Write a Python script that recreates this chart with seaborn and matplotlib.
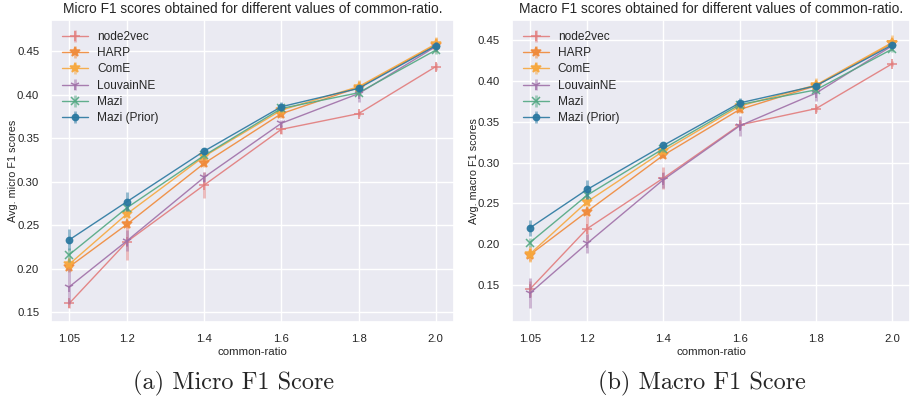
import numpy as np
import pandas as pd
import seaborn as sns
import matplotlib
matplotlib.use("Agg")
import matplotlib.pyplot as plt
from matplotlib.legend_handler import HandlerTuple

ratios = [1.05, 1.2, 1.4, 1.6, 1.8, 2.0]
methods = ["node2vec", "HARP", "ComE", "LouvainNE", "Mazi", "Mazi (Prior)"]

micro_node2vec = [0.160, 0.231, 0.296, 0.360, 0.378, 0.432]
micro_harp = [0.202, 0.251, 0.321, 0.378, 0.408, 0.457]
micro_come = [0.205, 0.263, 0.329, 0.382, 0.409, 0.458]
micro_louvain = [0.179, 0.232, 0.305, 0.367, 0.401, 0.455]
micro_mazi = [0.216, 0.270, 0.330, 0.384, 0.402, 0.451]
micro_prior = [0.233, 0.277, 0.335, 0.386, 0.407, 0.456]

micro_err_node2vec = [0.005, 0.021, 0.015, 0.005, 0.003, 0.004]
micro_err_harp = [0.006, 0.005, 0.004, 0.005, 0.007, 0.008]
micro_err_come = [0.008, 0.006, 0.004, 0.005, 0.008, 0.008]
micro_err_louvain = [0.020, 0.012, 0.006, 0.004, 0.010, 0.005]
micro_err_mazi = [0.008, 0.004, 0.004, 0.004, 0.004, 0.004]
micro_err_prior = [0.012, 0.011, 0.003, 0.005, 0.004, 0.004]

macro_node2vec = [0.145, 0.219, 0.281, 0.346, 0.366, 0.421]
macro_harp = [0.187, 0.240, 0.309, 0.365, 0.394, 0.446]
macro_come = [0.188, 0.252, 0.314, 0.369, 0.395, 0.447]
macro_louvain = [0.140, 0.201, 0.279, 0.345, 0.385, 0.443]
macro_mazi = [0.202, 0.260, 0.317, 0.371, 0.389, 0.439]
macro_prior = [0.220, 0.267, 0.321, 0.373, 0.394, 0.444]

macro_err_node2vec = [0.010, 0.015, 0.013, 0.005, 0.004, 0.003]
macro_err_harp = [0.008, 0.006, 0.004, 0.004, 0.006, 0.006]
macro_err_come = [0.010, 0.007, 0.004, 0.004, 0.009, 0.009]
macro_err_louvain = [0.018, 0.012, 0.010, 0.012, 0.010, 0.004]
macro_err_mazi = [0.006, 0.005, 0.004, 0.004, 0.004, 0.004]
macro_err_prior = [0.010, 0.012, 0.003, 0.006, 0.004, 0.004]

micro = [micro_node2vec, micro_harp, micro_come, micro_louvain, micro_mazi, micro_prior]
micro_err = [micro_err_node2vec, micro_err_harp, micro_err_come, micro_err_louvain,
             micro_err_mazi, micro_err_prior]
macro = [macro_node2vec, macro_harp, macro_come, macro_louvain, macro_mazi, macro_prior]
macro_err = [macro_err_node2vec, macro_err_harp, macro_err_come, macro_err_louvain,
             macro_err_mazi, macro_err_prior]

colors = ["#e27c7c", "#f08a3a", "#f7a83e", "#a070a8", "#52a882", "#2a78a0"]
markers = ["+", "*", "*", "1", "x", "o"]
msizes = [7, 7, 7, 7, 6, 4.5]

sns.set_theme(style="darkgrid")
plt.rcParams["font.family"] = ["Liberation Sans", "DejaVu Sans"]

fig = plt.figure(figsize=(9.14, 4.01), dpi=100)
ax1 = fig.add_axes([0.0558, 0.197, 0.4409, 0.753])
ax2 = fig.add_axes([0.560, 0.197, 0.436, 0.753])


def draw(ax, vals, errs, title, ylabel, ylim):
    handles = []
    for m, v, e, c, mk, ms in zip(methods, vals, errs, colors, markers, msizes):
        df = pd.DataFrame({"ratio": ratios, "score": v})
        sns.lineplot(data=df, x="ratio", y="score", color=c, marker=mk,
                     markersize=ms, markeredgecolor=c, markerfacecolor=c,
                     markeredgewidth=1.1, linewidth=1.0, alpha=0.9,
                     errorbar=None, ax=ax)
        line = ax.lines[-1]
        eb = ax.errorbar(ratios, v, yerr=e, fmt="none", ecolor=c,
                         elinewidth=2.0, alpha=0.5)
        handles.append((line, eb))
    ax.legend(handles, methods, handler_map={tuple: HandlerTuple(ndivide=1)},
              loc="upper left", frameon=False, fontsize=8.6,
              handlelength=2.2, labelspacing=0.36, borderaxespad=0.5,
              handletextpad=0.75)
    ax.set_xticks(ratios)
    ax.set_xticklabels(["1.05", "1.2", "1.4", "1.6", "1.8", "2.0"])
    ax.set_ylim(*ylim)
    ax.tick_params(labelsize=8.2, pad=2.5)
    ax.set_xlabel("common-ratio", fontsize=8.2, labelpad=2)
    ax.set_ylabel(ylabel, fontsize=7.8, labelpad=-1)
    ax.set_title(title, fontsize=9.9, pad=5)


draw(ax1, micro, micro_err,
     "Micro F1 scores obtained for different values of common-ratio.",
     "Avg. micro F1 scores", (0.1385, 0.4856))
draw(ax2, macro, macro_err,
     "Macro F1 scores obtained for different values of common-ratio.",
     "Avg. macro F1 scores", (0.1047, 0.4745))

fig.text(0.256, 0.045, "(a) Micro F1 Score", ha="center", va="center",
         fontsize=17.5, family=["cmr10", "DejaVu Serif"])
fig.text(0.768, 0.045, "(b) Macro F1 Score", ha="center", va="center",
         fontsize=17.5, family=["cmr10", "DejaVu Serif"])

fig.savefig("out.png", dpi=100)
